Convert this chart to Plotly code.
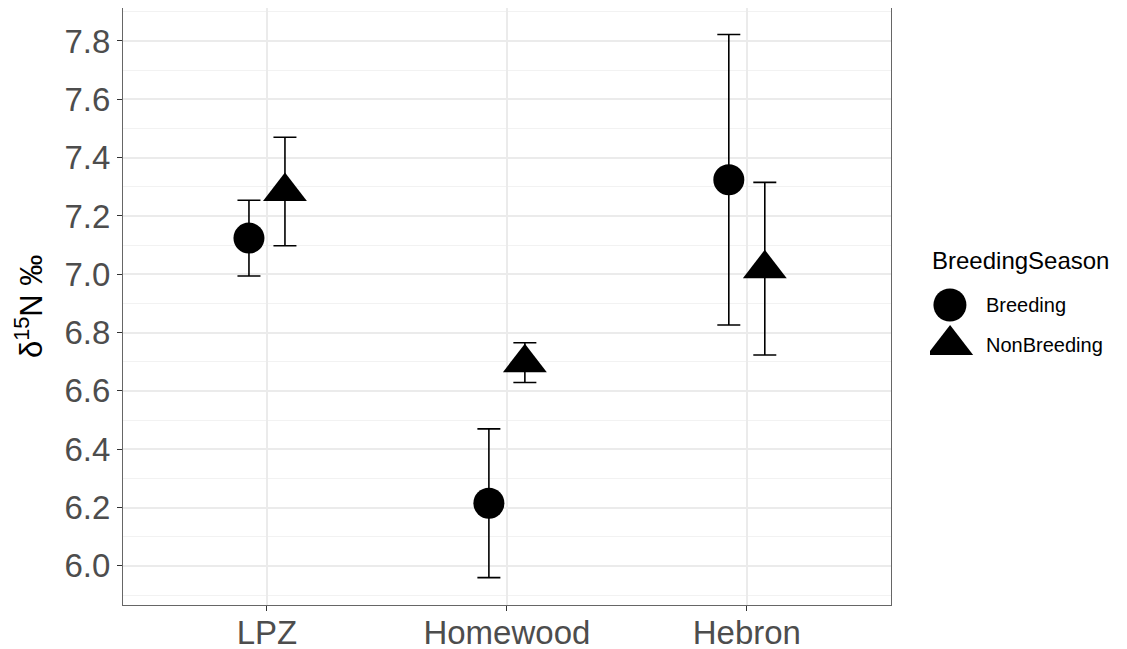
import plotly.graph_objects as go

sites = ["LPZ", "Homewood", "Hebron"]
seasons = ["Breeding", "NonBreeding"]
symbols = ["circle", "triangle-up"]
marker_sizes = [31, 38]

mean_breeding = [7.124, 6.215, 7.324]
se_breeding = [0.130, 0.255, 0.498]
mean_nonbreeding = [7.284, 6.697, 7.019]
se_nonbreeding = [0.186, 0.068, 0.296]

means = [mean_breeding, mean_nonbreeding]
ses = [se_breeding, se_nonbreeding]

FONT = "Liberation Sans, Arial, Helvetica, sans-serif"

fig = go.Figure()
for k, season in enumerate(seasons):
    fig.add_trace(go.Scatter(
        x=sites, y=means[k], name=season, mode="markers",
        offsetgroup=season,
        marker=dict(symbol=symbols[k], size=marker_sizes[k], color="black",
                    line=dict(width=0)),
        error_y=dict(type="data", array=ses[k], symmetric=True,
                     color="black", thickness=1.6, width=11.5),
        showlegend=False,
    ))

# custom legend (large keys as in the reference)
for k, season in enumerate(seasons):
    fig.add_trace(go.Scatter(
        x=[20], y=[k], mode="markers", xaxis="x2", yaxis="y2",
        marker=dict(symbol=symbols[k], size=marker_sizes[k] + 2, color="black",
                    line=dict(width=0)),
        showlegend=False, hoverinfo="skip",
    ))
    fig.add_annotation(x=54, y=k, xref="x2", yref="y2", text=season,
                       showarrow=False, xanchor="left", yanchor="middle",
                       font=dict(family=FONT, size=20, color="black"))
fig.add_annotation(x=0, y=-1.12, xref="x2", yref="y2", text="BreedingSeason",
                   showarrow=False, xanchor="left", yanchor="middle",
                   font=dict(family=FONT, size=24, color="black"))

# y-axis title
fig.add_annotation(x=-0.094, y=0.5, xref="paper", yref="paper",
                   text="δ<sup>15</sup>N ‰", textangle=-90, showarrow=False,
                   xanchor="center", yanchor="middle",
                   font=dict(family=FONT, size=31, color="black"))

# the page body adds an 8px margin; size the figure to fill the rest
fig.update_layout(
    width=1119, height=641,
    margin=dict(l=115, r=0, t=0, b=44),
    paper_bgcolor="white", plot_bgcolor="white",
    scattermode="group", scattergap=0.7,
    font=dict(family=FONT, color="#4D4D4D"),
    xaxis=dict(
        domain=[0, 0.7647], type="category", range=[-0.6, 2.6],
        automargin=False,
        showgrid=True, gridcolor="#EBEBEB", gridwidth=1.6,
        showline=True, linecolor="#666666", linewidth=1.3, mirror=True,
        ticks="outside", ticklen=5, tickwidth=1.3, tickcolor="#333333",
        ticklabelstandoff=-7,
        tickfont=dict(family=FONT, size=33, color="#4D4D4D"),
        zeroline=False,
    ),
    yaxis=dict(
        range=[5.866, 7.913], tick0=6.0, dtick=0.2, tickformat=".1f",
        automargin=False,
        showgrid=True, gridcolor="#EBEBEB", gridwidth=1.6,
        minor=dict(dtick=0.1, tick0=6.0, showgrid=True, gridcolor="#F2F2F2",
                   gridwidth=0.9),
        showline=True, linecolor="#666666", linewidth=1.3, mirror=True,
        ticks="outside", ticklen=5, tickwidth=1.3, tickcolor="#333333",
        tickfont=dict(family=FONT, size=33, color="#4D4D4D"),
        zeroline=False,
    ),
    xaxis2=dict(domain=[0.8038, 1.0], range=[0, 197], visible=False,
                fixedrange=True),
    yaxis2=dict(domain=[0, 1], range=[7.5, -7.425], visible=False,
                fixedrange=True, anchor="x2"),
)

fig.write_html("out.html")
